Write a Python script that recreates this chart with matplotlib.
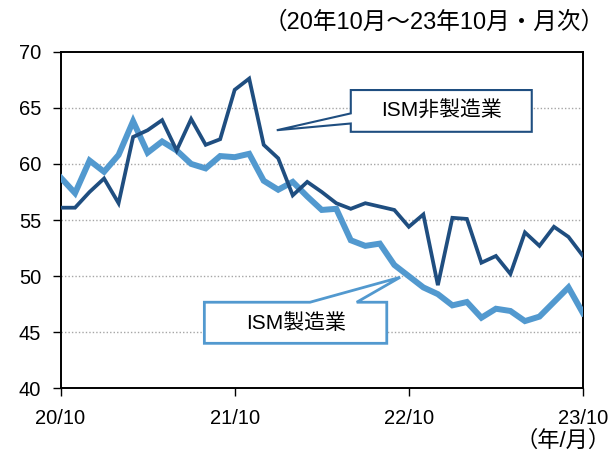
import numpy as np
import matplotlib.pyplot as plt
from matplotlib.patches import Polygon

plt.rcParams['font.family'] = ['Liberation Sans', 'Noto Sans CJK JP', 'DejaVu Sans']

# monthly, 2020/10 .. 2023/10
months = list(range(37))
ism_services = [56.1, 56.1, 57.5, 58.7, 56.5, 62.4, 63.0, 63.9, 61.2, 64.0, 61.7, 62.2,
                66.6, 67.6, 61.7, 60.5, 57.2, 58.4, 57.5, 56.5, 56.0, 56.5, 56.2, 55.9,
                54.4, 55.5, 49.2, 55.2, 55.1, 51.2, 51.8, 50.2, 53.9, 52.7, 54.4, 53.5, 51.8]
ism_manuf = [58.8, 57.4, 60.3, 59.3, 60.8, 63.8, 61.0, 62.0, 61.2, 60.0, 59.6, 60.7,
             60.6, 60.9, 58.5, 57.7, 58.4, 57.1, 55.9, 56.0, 53.2, 52.7, 52.9, 51.0,
             50.0, 49.0, 48.4, 47.4, 47.7, 46.3, 47.1, 46.9, 46.0, 46.4, 47.7, 49.0, 46.7]
xtick_pos = [0, 12, 24, 36]
xtick_labels = ['20/10', '21/10', '22/10', '23/10']
yticks = [40, 45, 50, 55, 60, 65, 70]

dark = '#1f4e80'
light = '#5299cf'

fig = plt.figure(figsize=(6.12, 4.57), dpi=100)
ax = fig.add_axes([0.0989, 0.150, 0.8537, 0.737])

ax.plot(months, ism_manuf, color=light, lw=4.3, solid_joinstyle='miter', zorder=3)
ax.plot(months, ism_services, color=dark, lw=2.7, solid_joinstyle='miter', zorder=4)

ax.set_xlim(0, 36)
ax.set_ylim(40, 70)
ax.set_yticks(yticks)
ax.set_xticks(xtick_pos)
ax.set_xticklabels(xtick_labels)
for g in yticks[1:-1]:
    ax.axhline(g, color='#a6a6a6', lw=1, ls=(0, (1, 1.5)), zorder=1)

for s in ax.spines.values():
    s.set_color('black')
    s.set_linewidth(1.4)
ax.tick_params(axis='y', direction='out', length=6, width=1, labelsize=14.5, pad=8)
ax.tick_params(axis='x', direction='out', length=6, width=1, labelsize=14.5, pad=9)

# callout boxes
box1 = Polygon([(20, 66.58), (32.47, 66.58), (32.47, 62.86), (20, 62.86), (20, 63.6),
                (14.9, 63.0), (20, 64.5)], closed=True, fc='white', ec=dark, lw=1.5,
               zorder=6, clip_on=False)
ax.add_patch(box1)
ax.text((20 + 32.47) / 2, (66.58 + 62.86) / 2, 'ISM非製造業', fontsize=15,
        ha='center', va='center', zorder=7)

box2 = Polygon([(9.91, 47.68), (17.19, 47.68), (23.4, 49.9), (20.41, 47.68), (22.48, 47.68),
                (22.48, 44.02), (9.91, 44.02)], closed=True, fc='white', ec=light, lw=2,
               zorder=6, clip_on=False)
ax.add_patch(box2)
ax.text((9.91 + 22.48) / 2, (47.68 + 44.02) / 2, 'ISM製造業', fontsize=15,
        ha='center', va='center', zorder=7)

fig.text(0.988, 0.950, '（20年10月～23年10月・月次）', fontsize=17, ha='right', va='center')
fig.text(0.998, 0.035, '（年/月）', fontsize=16, ha='right', va='center')

fig.savefig('out.png', dpi=100)
